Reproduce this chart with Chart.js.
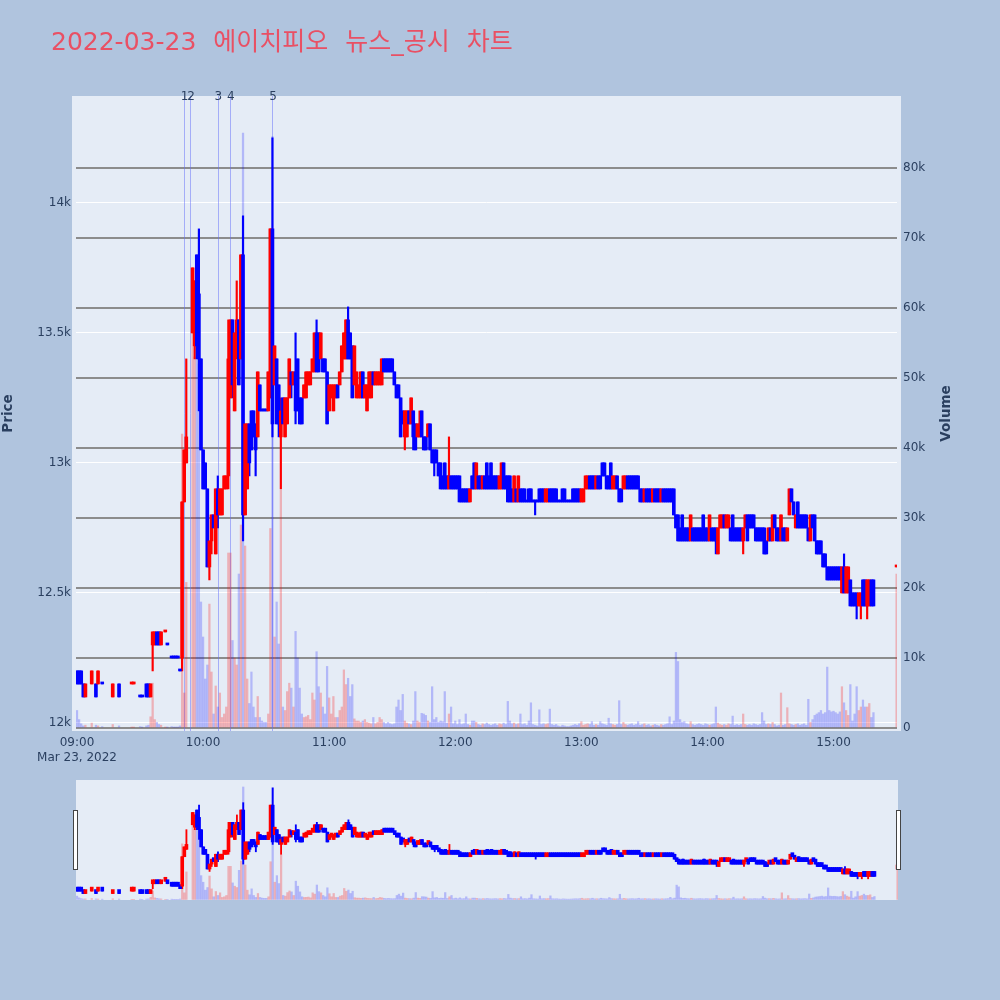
<!DOCTYPE html>
<html>
<head>
<meta charset="utf-8">
<script src="https://cdn.jsdelivr.net/npm/chart.js@4.4.1/dist/chart.umd.min.js"></script>
<style>
  html, body { margin: 0; padding: 0; background: #b0c4de; }
  #wrap { position: relative; width: 1000px; height: 1000px; }
  #main { position: absolute; left: 0; top: 0; }
  #slider { position: absolute; left: 0; top: 780px; }
</style>
</head>
<body>
<div id="wrap">
  <canvas id="main" width="1000" height="775"></canvas>
  <canvas id="slider" width="1000" height="120"></canvas>
</div>
<script>
const chartTitle = "2022-03-23 에이치피오 뉴스_공시 차트";
const dateLabel = "Mar 23, 2022";
const timeTicks = ["09:00", "10:00", "11:00", "12:00", "13:00", "14:00", "15:00"];
const priceTicks = [12000, 12500, 13000, 13500, 14000];
const volumeTicks = [0, 10000, 20000, 30000, 40000, 50000, 60000, 70000, 80000];
const eventTimes = ["09:51", "09:54", "10:07", "10:13", "10:33"];
const eventLabels = ["1", "2", "3", "4", "5"];

// one-minute candles
const times = [
  "09:00","09:01","09:02","09:03","09:04","09:07","09:09","09:10","09:12","09:17",
  "09:20","09:26","09:27","09:30","09:31","09:33","09:34","09:35","09:36","09:37",
  "09:38","09:39","09:40","09:42","09:43","09:45","09:46","09:47","09:48","09:49",
  "09:50","09:51","09:52","09:55","09:56","09:57","09:58","09:59",
  "10:00","10:01","10:02","10:03","10:04","10:05","10:06","10:07","10:08","10:09",
  "10:10","10:11","10:12","10:13","10:14","10:15","10:16","10:17","10:18","10:19",
  "10:20","10:21","10:22","10:23","10:24","10:25","10:26","10:27","10:28","10:29",
  "10:30","10:31","10:32","10:33","10:34","10:35","10:36","10:37","10:38","10:39",
  "10:40","10:41","10:42","10:43","10:44","10:45","10:46","10:47","10:48","10:49",
  "10:50","10:51","10:52","10:53","10:54","10:55","10:56","10:57","10:58","10:59",
  "11:00","11:01","11:02","11:03","11:04","11:05","11:06","11:07","11:08","11:09",
  "11:10","11:11","11:12","11:13","11:14","11:15","11:16","11:17","11:18","11:19",
  "11:20","11:21","11:22","11:23","11:24","11:25","11:26","11:27","11:28","11:29",
  "11:30","11:31","11:32","11:33","11:34","11:35","11:36","11:37","11:38","11:39",
  "11:40","11:41","11:42","11:43","11:44","11:45","11:46","11:47","11:48","11:49",
  "11:50","11:51","11:52","11:53","11:54","11:55","11:56","11:57","11:58","11:59",
  "12:00","12:01","12:02","12:03","12:04","12:05","12:06","12:07","12:08","12:09",
  "12:10","12:11","12:12","12:13","12:14","12:15","12:16","12:17","12:18","12:19",
  "12:20","12:21","12:22","12:23","12:24","12:25","12:26","12:27","12:28","12:29",
  "12:30","12:31","12:32","12:33","12:34","12:35","12:36","12:37","12:38","12:39",
  "12:40","12:41","12:42","12:43","12:44","12:45","12:46","12:47","12:48","12:49",
  "12:50","12:51","12:52","12:53","12:54","12:55","12:56","12:57","12:58","12:59",
  "13:00","13:01","13:02","13:03","13:04","13:05","13:06","13:07","13:08","13:09",
  "13:10","13:11","13:12","13:13","13:14","13:15","13:16","13:17","13:18","13:19",
  "13:20","13:21","13:22","13:23","13:24","13:25","13:26","13:27","13:28","13:29",
  "13:30","13:31","13:32","13:33","13:34","13:35","13:36","13:37","13:38","13:39",
  "13:40","13:41","13:42","13:43","13:44","13:45","13:46","13:47","13:48","13:49",
  "13:50","13:51","13:52","13:53","13:54","13:55","13:56","13:57","13:58","13:59",
  "14:00","14:01","14:02","14:03","14:04","14:05","14:06","14:07","14:08","14:09",
  "14:10","14:11","14:12","14:13","14:14","14:15","14:16","14:17","14:18","14:19",
  "14:20","14:21","14:22","14:23","14:24","14:25","14:26","14:27","14:28","14:29",
  "14:30","14:31","14:32","14:33","14:34","14:35","14:36","14:37","14:38","14:39",
  "14:40","14:41","14:42","14:43","14:44","14:45","14:46","14:47","14:48","14:49",
  "14:50","14:51","14:52","14:53","14:54","14:55","14:56","14:57","14:58","14:59",
  "15:00","15:01","15:02","15:03","15:04","15:05","15:06","15:07","15:08","15:09",
  "15:10","15:11","15:12","15:13","15:14","15:15","15:16","15:17","15:18","15:19",
  "15:30"
];

const opens = [
  12200,12200,12200,12150,12100,12150,12150,12150,12150,12100,
  12150,12150,12150,12100,12100,12150,12150,12100,12300,12300,
  12350,12350,12300,12350,12300,12250,12250,12250,12250,12200,
  12250,12850,13000,13500,13450,13800,13650,13400,
  13050,13000,12900,12600,12700,12800,12650,12900,12800,12800,
  12900,12900,12950,13250,13550,13200,13450,13550,13400,13800,
  12800,12900,13150,13200,13200,13150,13100,13300,13200,13200,
  13200,13200,13250,13900,13300,13400,13300,13100,13250,13100,
  13150,13250,13350,13300,13350,13400,13250,13250,13250,13250,
  13300,13300,13350,13350,13500,13500,13400,13400,13400,13350,
  13200,13250,13200,13250,13300,13300,13350,13400,13400,13550,
  13500,13450,13300,13250,13250,13250,13350,13250,13200,13250,
  13250,13350,13300,13300,13300,13300,13400,13400,13400,13400,
  13400,13350,13300,13300,13250,13200,13100,13100,13200,13150,
  13200,13150,13100,13100,13200,13100,13100,13100,13150,13050,
  13050,13050,13000,13000,12950,13000,12950,12900,12950,12950,
  12950,12950,12950,12900,12900,12900,12900,12850,12950,13000,
  12900,12950,12950,12900,12950,13000,12950,13000,12950,12950,
  12950,12900,12900,13000,12950,12950,12950,12900,12850,12900,
  12850,12900,12900,12900,12850,12900,12900,12850,12850,12850,
  12900,12900,12900,12850,12850,12900,12900,12900,12900,12850,
  12850,12900,12900,12850,12850,12850,12900,12900,12900,12900,
  12850,12850,12900,12900,12950,12950,12950,12900,12950,12950,
  13000,13000,12950,12950,13000,12900,12900,12950,12900,12900,
  12900,12900,12950,12950,12950,12950,12950,12950,12900,12900,
  12850,12900,12900,12900,12850,12900,12900,12900,12850,12900,
  12900,12900,12900,12900,12900,12800,12800,12750,12800,12750,
  12750,12750,12700,12750,12750,12750,12750,12750,12800,12750,
  12750,12700,12750,12750,12750,12650,12750,12750,12800,12750,
  12750,12750,12800,12750,12750,12750,12750,12700,12750,12800,
  12800,12800,12800,12750,12750,12750,12750,12750,12700,12700,
  12750,12700,12800,12750,12750,12700,12750,12750,12700,12800,
  12900,12850,12750,12850,12800,12800,12800,12800,12750,12700,
  12800,12800,12700,12700,12700,12650,12650,12600,12600,12600,
  12600,12600,12600,12600,12500,12600,12500,12500,12550,12500,
  12500,12500,12450,12450,12550,12550,12450,12450,12550,12550,
  12600
];

const highs = [
  12200,12200,12200,12150,12150,12200,12150,12200,12150,12150,
  12150,12150,12150,12100,12100,12150,12150,12150,12350,12350,
  12350,12350,12350,12350,12300,12250,12250,12250,12250,12200,
  12850,13050,13400,13750,13700,13800,13900,13400,
  13050,13000,12900,12700,12800,12800,12900,12950,12900,12900,
  12950,12950,13550,13550,13550,13500,13700,13550,13800,13950,
  13150,13150,13150,13200,13200,13150,13350,13300,13200,13200,
  13200,13350,13900,14250,13450,13400,13300,13250,13250,13250,
  13250,13400,13350,13350,13500,13400,13250,13250,13300,13350,
  13350,13350,13400,13500,13550,13500,13500,13400,13400,13350,
  13300,13300,13300,13300,13300,13350,13450,13500,13550,13600,
  13500,13450,13450,13350,13300,13350,13350,13300,13300,13350,
  13350,13350,13350,13350,13350,13400,13400,13400,13400,13400,
  13400,13350,13300,13300,13250,13200,13200,13200,13200,13250,
  13200,13150,13150,13200,13200,13100,13100,13150,13150,13050,
  13050,13050,13000,13000,12950,13000,12950,13100,12950,12950,
  12950,12950,12950,12900,12900,12900,12900,12900,12950,13000,
  13000,12950,12950,12950,12950,13000,12950,13000,12950,12950,
  12950,12950,13000,13000,12950,12950,12950,12900,12950,12900,
  12950,12900,12900,12900,12850,12900,12900,12850,12850,12850,
  12900,12900,12900,12900,12900,12900,12900,12900,12900,12850,
  12850,12900,12900,12850,12850,12850,12900,12900,12900,12900,
  12900,12900,12950,12950,12950,12950,12950,12950,12950,12950,
  13000,13000,12950,12950,13000,12950,12950,12950,12900,12900,
  12950,12950,12950,12950,12950,12950,12950,12950,12900,12900,
  12900,12900,12900,12900,12900,12900,12900,12900,12900,12900,
  12900,12900,12900,12900,12900,12800,12800,12750,12800,12750,
  12750,12750,12800,12750,12750,12750,12750,12750,12800,12750,
  12750,12800,12750,12750,12750,12750,12800,12800,12800,12800,
  12800,12750,12800,12750,12750,12750,12750,12750,12800,12800,
  12800,12800,12800,12750,12750,12750,12750,12750,12700,12750,
  12750,12800,12800,12750,12750,12800,12750,12750,12750,12900,
  12900,12850,12800,12850,12800,12800,12800,12800,12750,12800,
  12800,12800,12700,12700,12700,12650,12650,12600,12600,12600,
  12600,12600,12600,12600,12600,12650,12600,12600,12550,12500,
  12500,12500,12500,12500,12550,12550,12550,12550,12550,12550,
  12600
];

const lows = [
  12150,12150,12150,12100,12100,12150,12100,12150,12150,12100,
  12100,12150,12150,12100,12100,12100,12100,12100,12200,12300,
  12300,12300,12300,12350,12300,12250,12250,12250,12250,12200,
  12200,12850,13000,13500,13400,13400,13200,13050,
  12900,12900,12600,12550,12650,12750,12650,12750,12800,12800,
  12900,12900,12900,13250,13250,13200,13400,13300,13400,12700,
  12800,12900,12950,13050,13100,12950,13100,13200,13200,13200,
  13200,13200,13250,13100,13300,13150,13100,12900,13150,13100,
  13150,13250,13250,13300,13150,13200,13150,13150,13250,13250,
  13300,13300,13350,13350,13350,13350,13400,13350,13350,13150,
  13200,13250,13200,13250,13250,13300,13350,13400,13400,13400,
  13400,13250,13300,13250,13250,13250,13250,13250,13200,13250,
  13250,13300,13300,13300,13300,13300,13350,13350,13350,13350,
  13350,13300,13250,13250,13100,13150,13050,13100,13150,13150,
  13050,13050,13100,13100,13100,13050,13050,13100,13050,13000,
  12950,13000,12950,12900,12900,12900,12900,12900,12900,12900,
  12900,12900,12850,12850,12850,12850,12850,12850,12900,12900,
  12900,12900,12900,12900,12900,12900,12900,12900,12900,12900,
  12900,12900,12900,12900,12900,12850,12850,12850,12850,12850,
  12850,12850,12850,12850,12850,12850,12850,12850,12800,12850,
  12850,12850,12850,12850,12850,12850,12850,12850,12850,12850,
  12850,12850,12850,12850,12850,12850,12850,12850,12850,12850,
  12850,12850,12900,12900,12900,12900,12900,12900,12900,12900,
  12950,12950,12900,12900,12900,12900,12900,12900,12850,12850,
  12900,12900,12900,12900,12900,12900,12900,12900,12850,12850,
  12850,12850,12850,12850,12850,12850,12850,12850,12850,12850,
  12850,12850,12850,12850,12800,12750,12700,12700,12700,12700,
  12700,12700,12700,12700,12700,12700,12700,12700,12700,12700,
  12700,12700,12700,12700,12650,12650,12750,12750,12750,12750,
  12750,12700,12700,12700,12700,12700,12700,12650,12750,12700,
  12750,12750,12750,12700,12700,12700,12700,12650,12650,12700,
  12700,12700,12750,12700,12700,12700,12700,12700,12700,12800,
  12850,12800,12750,12750,12750,12750,12750,12750,12700,12700,
  12750,12700,12650,12650,12650,12600,12600,12550,12550,12550,
  12550,12550,12550,12550,12500,12500,12500,12500,12450,12450,
  12450,12400,12450,12400,12450,12450,12400,12450,12450,12450,
  12600
];

const closes = [
  12150,12150,12150,12100,12150,12200,12100,12200,12150,12150,
  12100,12150,12150,12100,12100,12100,12100,12150,12350,12350,
  12300,12300,12350,12350,12300,12250,12250,12250,12250,12200,
  12850,13050,13100,13750,13700,13450,13400,13050,
  12900,12900,12600,12700,12800,12750,12900,12800,12900,12900,
  12950,12950,13400,13550,13300,13500,13550,13300,13800,12800,
  13150,13150,13000,13050,13100,13050,13350,13200,13200,13200,
  13200,13350,13900,13150,13450,13150,13150,13200,13150,13250,
  13250,13400,13300,13350,13200,13200,13150,13150,13300,13350,
  13350,13350,13400,13500,13350,13350,13500,13350,13350,13150,
  13300,13300,13300,13300,13250,13350,13450,13500,13550,13400,
  13400,13250,13450,13350,13300,13350,13250,13300,13300,13350,
  13350,13300,13350,13350,13350,13400,13350,13350,13350,13350,
  13350,13300,13250,13250,13100,13150,13200,13200,13150,13250,
  13100,13050,13150,13150,13100,13050,13050,13150,13050,13000,
  13000,13000,12950,12900,12900,12900,12900,12950,12900,12900,
  12900,12900,12850,12850,12850,12850,12850,12900,12900,12900,
  13000,12900,12900,12950,12900,12900,12900,12900,12900,12900,
  12900,12950,13000,12900,12900,12850,12850,12850,12950,12850,
  12950,12850,12850,12850,12850,12850,12850,12850,12850,12850,
  12850,12850,12850,12900,12900,12850,12850,12850,12850,12850,
  12850,12850,12850,12850,12850,12850,12850,12850,12850,12850,
  12900,12900,12950,12950,12900,12900,12900,12950,12900,12900,
  12950,12950,12900,12900,12900,12950,12950,12900,12850,12850,
  12950,12950,12900,12900,12900,12900,12900,12900,12850,12850,
  12900,12850,12850,12850,12900,12850,12850,12850,12900,12850,
  12850,12850,12850,12850,12800,12750,12700,12700,12700,12700,
  12700,12700,12800,12700,12700,12700,12700,12700,12700,12700,
  12700,12800,12700,12700,12700,12750,12800,12800,12750,12800,
  12800,12700,12700,12700,12700,12700,12700,12750,12800,12700,
  12750,12750,12750,12700,12700,12700,12700,12650,12650,12750,
  12700,12800,12750,12700,12700,12800,12700,12700,12750,12900,
  12850,12800,12800,12750,12750,12750,12750,12750,12700,12800,
  12750,12700,12650,12650,12650,12600,12600,12550,12550,12550,
  12550,12550,12550,12550,12600,12500,12600,12600,12450,12450,
  12450,12450,12500,12500,12450,12450,12550,12550,12450,12450,
  12600
];

const volumes = [
  2500,1200,600,300,400,700,400,300,200,500,
  300,100,100,200,100,300,400,1600,6400,1200,
  800,500,400,100,100,200,100,100,100,300,
  42000,5000,20800,57000,53000,62000,52000,18000,
  13000,7000,9000,17700,8000,2000,6000,3000,5000,1500,
  2000,3000,25000,25000,12500,10000,9000,22000,29000,85000,
  26000,7000,3500,8000,3000,1500,4500,1500,1000,800,
  800,2000,28500,84500,13000,18000,12000,34000,3000,2500,
  5200,6400,5700,3000,13800,10000,5700,2000,1500,1600,
  1800,1200,5000,4000,10900,5900,5000,3000,2000,8800,
  4300,2000,4500,1500,1500,2500,3000,8300,6200,7100,
  4500,6200,1300,1000,1000,800,1000,1200,800,700,
  600,1500,600,800,1500,1200,800,600,800,600,
  500,600,3000,4000,2500,4800,1000,700,600,500,
  1000,5200,1000,800,2100,2000,1800,1000,800,5900,
  1200,1500,800,1000,900,5200,700,2000,3000,600,
  1000,500,1200,500,600,2000,500,400,1000,1000,
  800,500,400,600,500,700,500,400,500,600,
  400,600,500,700,500,3800,1000,600,700,500,
  600,2000,500,600,400,1000,3600,500,400,300,
  2600,500,600,500,600,2700,500,400,500,300,
  200,400,300,200,200,300,400,500,400,600,
  900,400,500,600,500,900,400,500,400,900,
  600,500,400,1400,600,500,400,500,3900,500,
  800,500,400,500,600,400,500,900,400,500,
  600,400,500,300,400,500,400,300,500,400,
  500,600,1600,500,1000,10800,9500,1200,800,900,
  600,500,900,500,400,500,600,500,400,600,
  500,400,500,600,3000,700,500,400,500,400,
  600,500,1700,400,500,400,500,2000,500,400,
  500,400,600,500,400,500,2200,1000,500,600,
  500,800,500,300,400,5000,400,500,2900,600,
  500,400,500,600,400,500,600,400,4100,800,
  1200,1800,2000,2200,2500,2000,2200,8700,2500,2300,
  2400,2200,2000,2300,5900,3600,2500,1800,6200,1000,
  2000,5900,2500,3000,4000,3000,3000,3500,1500,2200,
  22000
];

const RED = "#ff0000";
const BLUE = "#0000ff";
const INK = "#2a3f5f";
const PLOT_BG = "#e5ecf6";
const PAPER_BG = "#b0c4de";
const FONT = "'DejaVu Sans', 'Noto Sans CJK KR', sans-serif";

const toMin = t => { const [h, m] = t.split(":").map(Number); return (h - 9) * 60 + m; };
const xs = times.map(toMin);

// plotly style: up if close > open, down if lower, flat bars follow the previous close
const colors = [];
closes.forEach((c, i) => {
  const o = opens[i];
  let up;
  if (c > o) up = true;
  else if (c < o) up = false;
  else if (i > 0 && c !== closes[i - 1]) up = c > closes[i - 1];
  else up = i > 0 ? colors[i - 1] === RED : false;
  colors.push(up ? RED : BLUE);
});
const volColors = colors.map(c => c === RED ? "rgba(255,0,0,0.25)" : "rgba(0,0,255,0.22)");

const X_MIN = -0.48, X_MAX = 390.2;
const P_MIN = 11969, P_MAX = 14411;
const V_MIN = -430, V_MAX = 90286;

Chart.defaults.font.family = FONT;
Chart.defaults.font.size = 12;
Chart.defaults.color = INK;

function candleSets(bodyW, wickW, volW, minLen) {
  return [
    {
      label: "body",
      data: xs.map((x, i) => ({ x, y: [opens[i], closes[i]] })),
      backgroundColor: colors, borderWidth: 0,
      barThickness: bodyW, minBarLength: minLen, grouped: false,
      yAxisID: "y", order: 1
    },
    {
      label: "wick",
      data: xs.map((x, i) => ({ x, y: [lows[i], highs[i]] })),
      backgroundColor: colors, borderWidth: 0,
      barThickness: wickW, grouped: false,
      yAxisID: "y", order: 2
    },
    {
      label: "volume",
      data: xs.map((x, i) => ({ x, y: volumes[i] })),
      backgroundColor: volColors, borderWidth: 0,
      barThickness: volW, grouped: false,
      yAxisID: "y2", order: 3
    }
  ];
}

const paperPlugin = {
  id: "paper",
  beforeDraw(chart, args, opts) {
    const { ctx, chartArea: a } = chart;
    ctx.save();
    ctx.fillStyle = PAPER_BG;
    ctx.fillRect(0, 0, chart.width, chart.height);
    ctx.fillStyle = PLOT_BG;
    ctx.fillRect(a.left - opts.padX, a.top, a.right - a.left + 2 * opts.padX, a.bottom - a.top);
    ctx.restore();
  }
};

const eventPlugin = {
  id: "events",
  beforeDatasetsDraw(chart) {
    const { ctx, chartArea: a, scales } = chart;
    ctx.save();
    ctx.strokeStyle = "rgba(99,110,250,0.5)";
    ctx.lineWidth = 1;
    eventTimes.forEach(t => {
      const x = Math.round(scales.x.getPixelForValue(toMin(t))) + 0.5;
      ctx.beginPath();
      ctx.moveTo(x, a.top);
      ctx.lineTo(x, a.bottom);
      ctx.stroke();
    });
    ctx.restore();
  },
  afterDraw(chart) {
    const { ctx, chartArea: a, scales } = chart;
    ctx.save();
    ctx.fillStyle = INK;
    ctx.font = "12px " + FONT;
    ctx.textAlign = "center";
    ctx.textBaseline = "middle";
    eventTimes.forEach((t, i) => {
      ctx.fillText(eventLabels[i], scales.x.getPixelForValue(toMin(t)) + 0.5, a.top + 1);
    });
    // title
    ctx.fillStyle = "rgb(233,80,100)";
    ctx.font = "25px " + FONT;
    ctx.textAlign = "left";
    ctx.textBaseline = "alphabetic";
    if ("wordSpacing" in ctx) ctx.wordSpacing = "9px";
    ctx.fillText(chartTitle, 51, 50);
    if ("wordSpacing" in ctx) ctx.wordSpacing = "0px";
    // right axis title
    ctx.fillStyle = INK;
    ctx.font = "bold 13.5px " + FONT;
    ctx.translate(946, (a.top + a.bottom) / 2);
    ctx.rotate(-Math.PI / 2);
    ctx.textAlign = "center";
    ctx.textBaseline = "middle";
    ctx.fillText("Volume", 0, 0);
    ctx.restore();
  }
};

new Chart(document.getElementById("main"), {
  type: "bar",
  data: { datasets: candleSets(3, 1.5, 1.6, 2) },
  options: {
    responsive: false,
    animation: false,
    events: [],
    layout: { padding: { top: 96, left: 0, right: 0, bottom: 0 } },
    plugins: { legend: { display: false }, tooltip: { enabled: false }, paper: { padX: 4 } },
    scales: {
      x: {
        type: "linear", min: X_MIN, max: X_MAX, offset: false, bounds: "data",
        afterBuildTicks: s => { s.ticks = timeTicks.map(t => ({ value: toMin(t) })); },
        afterFit: s => { s.height = 44; },
        grid: { display: false, drawTicks: false },
        border: { display: false },
        ticks: {
          padding: 4, maxRotation: 0, autoSkip: false,
          font: { size: 12, lineHeight: 1.25 },
          callback: (v, i) => i === 0 ? [timeTicks[0], dateLabel] : timeTicks[i]
        }
      },
      y: {
        position: "left", min: P_MIN, max: P_MAX, bounds: "data",
        afterBuildTicks: s => { s.ticks = priceTicks.map(v => ({ value: v })); },
        afterFit: s => { s.width = 76; },
        grid: { color: "#ffffff", lineWidth: 1, drawTicks: false },
        border: { display: false },
        ticks: { padding: 5, callback: v => (v / 1000) + "k" },
        title: { display: true, text: "Price", font: { size: 13.5, weight: "bold" }, padding: 0 }
      },
      y2: {
        position: "right", min: V_MIN, max: V_MAX, bounds: "data",
        afterBuildTicks: s => { s.ticks = volumeTicks.map(v => ({ value: v })); },
        afterFit: s => { s.width = 103; },
        grid: { color: "#8c8c8c", lineWidth: 2, drawTicks: false },
        border: { display: false },
        ticks: { padding: 6, callback: v => v === 0 ? "0" : (v / 1000) + "k" }
      }
    }
  },
  plugins: [paperPlugin, eventPlugin]
});

const handlePlugin = {
  id: "handles",
  afterDraw(chart) {
    const { ctx, chartArea: a } = chart;
    ctx.save();
    ctx.fillStyle = "#ffffff";
    ctx.strokeStyle = "#444444";
    ctx.lineWidth = 1;
    [a.left - 3, a.right - 2].forEach(x => {
      ctx.fillRect(x, 30, 5, 60);
      ctx.strokeRect(x + 0.5, 30.5, 4, 59);
    });
    ctx.restore();
  }
};

new Chart(document.getElementById("slider"), {
  type: "bar",
  data: { datasets: candleSets(3, 1.2, 1.6, 4) },
  options: {
    responsive: false,
    animation: false,
    events: [],
    layout: { padding: { top: 0, left: 76, right: 102, bottom: 0 } },
    plugins: { legend: { display: false }, tooltip: { enabled: false }, paper: { padX: 0 } },
    scales: {
      x: { type: "linear", display: false, min: X_MIN, max: X_MAX, offset: false, bounds: "data" },
      y: { display: false, min: P_MIN, max: P_MAX, bounds: "data" },
      y2: { display: false, position: "right", min: V_MIN, max: V_MAX, bounds: "data" }
    }
  },
  plugins: [paperPlugin, handlePlugin]
});
</script>
</body>
</html>
